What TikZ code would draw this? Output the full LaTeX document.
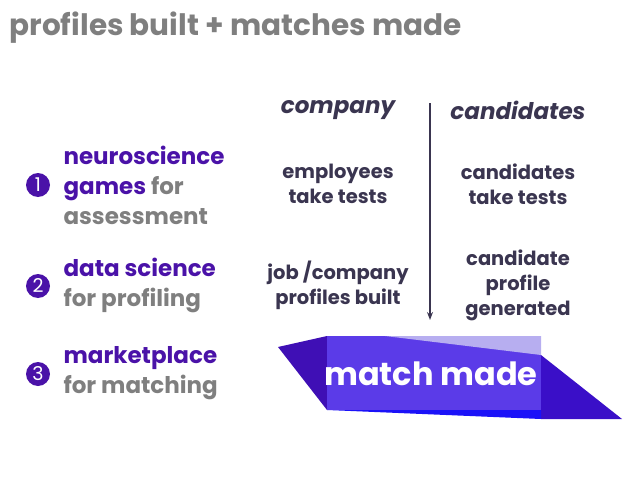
\documentclass[tikz,border=0pt]{standalone}
\usetikzlibrary{arrows.meta}
\usepackage{fontspec}
\setmainfont{Poppins}
\definecolor{pur}{HTML}{4A12A8}
\definecolor{gr}{HTML}{7F7F7F}
\definecolor{dk}{HTML}{3A3550}
\definecolor{mid}{HTML}{5B3BE8}
\definecolor{lt}{HTML}{B7AEF0}
\definecolor{deep}{HTML}{3A0FC8}
\begin{document}
\begin{tikzpicture}[x=1pt,y=-1pt,
  hd/.style={font=\fontsize{23}{26}\selectfont\bfseries\itshape,text=dk},
  cell/.style={font=\fontsize{19.5}{25}\selectfont\bfseries,text=dk,align=center},
  lbl/.style={font=\fontsize{23}{30}\selectfont\bfseries,text=gr,align=left,anchor=west},
  num/.style={circle,fill=pur,text=white,inner sep=0pt,minimum size=24pt,font=\fontsize{19}{19}\selectfont}]
\useasboundingbox (0,0) rectangle (638,479);
\node[anchor=west,font=\fontsize{29.5}{34}\selectfont\bfseries,text=gr] (title) at (6,28) {profiles built + matches made};
\node[hd] (co) at (338,110) {company};
\node[hd] (ca) at (518,110) {candidates};
\coordinate (a1) at (430,103);
\coordinate (a2) at (430,320);
\draw[dk,line width=1.6pt,-{Stealth[length=8pt]}] (a1) -- (a2);
\node[cell] (e1) at (338,184) {employees\\take tests};
\node[cell] (c1) at (518,184) {candidates\\take tests};
\node[cell] (e2) at (338,285) {job /company\\profiles built};
\node[cell] (c2) at (518,285) {candidate\\profile\\generated};
\node[num] (n1) at (38,185) {1};
\node[num] (n2) at (38,286) {2};
\node[num] (n3) at (38,374) {3};
\node[lbl] (l1) at (60,185) {\textcolor{pur}{neuroscience}\\\textcolor{pur}{games} for\\assessment};
\node[lbl] (l2) at (60,285) {\textcolor{pur}{data science}\\for profiling};
\node[lbl] (l3) at (60,373) {\textcolor{pur}{marketplace}\\for matching};
\fill[pur!85!blue] (278,347) -- (327,336) -- (327,410) -- cycle;
\fill[mid] (327,336) rectangle (541,410);
\fill[lt] (385,336) -- (541,336) -- (541,355) -- cycle;
\fill[deep] (541,355) -- (622,419) -- (541,419) -- cycle;
\fill[blue!70!mid] (327,410) -- (541,410) -- (541,419) -- cycle;
\node[font=\fontsize{32}{36}\selectfont\bfseries,text=white] (mm) at (431,374) {match made};
\end{tikzpicture}
\end{document}
